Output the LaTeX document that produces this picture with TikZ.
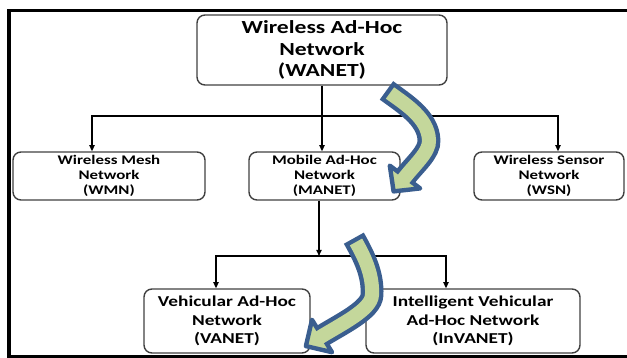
\documentclass[tikz,border=0pt]{standalone}
\usepackage{fontspec}
\setmainfont{Carlito}[FakeStretch=1.28]
\usepackage{tikz}
\usetikzlibrary{positioning, arrows.meta, calc}
\definecolor{flowgreen}{HTML}{C4D79B}
\definecolor{flowblue}{HTML}{3A5E8F}
\tikzset{net node/.style={draw=black!75, line width=0.8pt, rounded corners=4.5pt, align=center, inner sep=1pt},
	top node/.style={net node, minimum width=5cm, minimum height=1.4cm, font=\bfseries\fontsize{10.5}{12}\selectfont},
	mid node/.style={net node, minimum height=0.96cm, font=\bfseries\fontsize{7.5}{8.5}\selectfont},
	low node/.style={net node, minimum height=1.28cm, font=\bfseries\fontsize{8.6}{10.5}\selectfont},
	flow body/.style={flowblue, line width=13pt},
	flow core/.style={flowgreen, line width=8pt},
	flow head/.style={draw=flowblue, fill=flowgreen, line width=2.5pt, line join=round},}

\begin{document}
\begin{tikzpicture}[x=0.02cm, y=-0.02cm, line width=0.8pt, >={Triangle[length=3.5pt,width=3pt]}]
				\useasboundingbox (0,0) rectangle (627,358);
				% Frame
				\draw[line width=2pt] (9,10.5) rectangle (660,356.5);
				% Networks
				\node[top node] (wanet) at (322,50) {Wireless Ad-Hoc\\Network\\(WANET)};
				\node[mid node, minimum width=3.84cm] (wmn) at (109,176) {Wireless Mesh\\Network\\(WMN)};
				\node[mid node, minimum width=3.02cm] (manet) at (324.5,176) {Mobile Ad-Hoc\\Network\\(MANET)};
				\node[mid node, minimum width=3cm] (wsn) at (549,176) {Wireless Sensor\\Network\\(WSN)};
				\node[low node, minimum width=3.32cm] (vanet) at (227,321) {Vehicular Ad-Hoc\\Network\\(VANET)};
				\node[low node, minimum width=4.28cm] (invanet) at (473,321) {Intelligent Vehicular\\Ad-Hoc Network\\(InVANET)};
				% Junctions
				\coordinate (j1) at (322,116);
				\coordinate (j2) at (319,256);
				% Paths
				\draw (wanet.south) -- (j1);
				\draw[->] (j1) -| ($(wmn.north)+(-17,0)$);
				\draw[->] (j1) -- (j1 |- manet.north);
				\draw[->] (j1) -| ($(wsn.north)+(9,0)$);
				\draw[->] (j2 |- manet.south) -- (j2);
				\draw[->] (j2) -| ($(vanet.north)+(-11,0)$);
				\draw[->] (j2) -| ($(invanet.north)+(-27,0)$);
				% Flow arrows
				\draw[flow body, shorten <=-2.5pt] (390,93) .. controls (405,104) and (428,118) .. (429,140) .. controls (430,152) and (414,165) .. (405,177);
				\filldraw[flow head] (420.2,188.4) -- (393.6,191.4) -- (389.8,165.6) -- cycle;
				\draw[flow core, shorten >=-2.5pt] (390,93) .. controls (405,104) and (428,118) .. (429,140) .. controls (430,152) and (414,165) .. (405,177);
				\draw[flow body, shorten <=-2.5pt] (356,242) .. controls (365,258) and (373,275) .. (372,295) .. controls (371.3,310) and (340.7,324.3) .. (322,336);
				\filldraw[flow head] (332,352.2) -- (305.9,346.1) -- (312,319.8) -- cycle;
				\draw[flow core, shorten >=-2.5pt] (356,242) .. controls (365,258) and (373,275) .. (372,295) .. controls (371.3,310) and (340.7,324.3) .. (322,336);
			\end{tikzpicture}
\end{document}
